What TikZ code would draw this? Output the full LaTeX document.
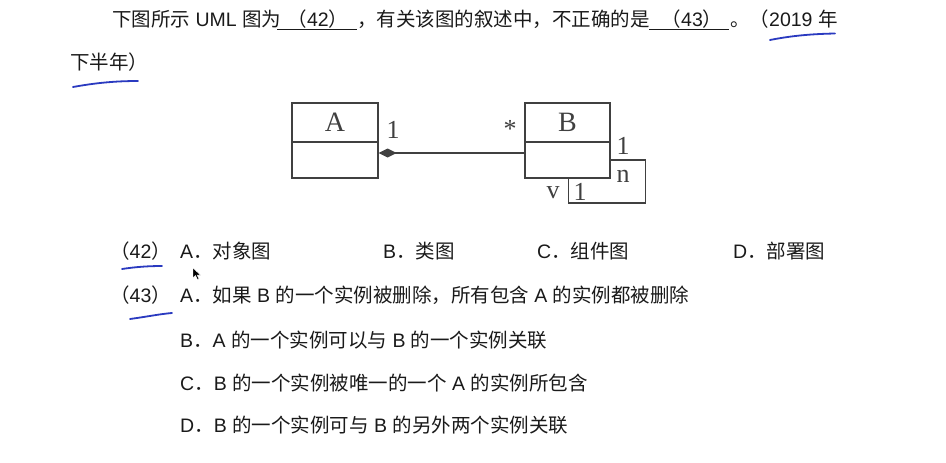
\documentclass[tikz,border=0pt]{standalone}
\usepackage{fontspec}
\setmainfont{Liberation Sans}
\newfontfamily\cjk{Noto Sans CJK SC}
\newfontfamily\lsf{Liberation Sans}
\newfontfamily\tms{Liberation Serif}
\newcommand\ls[1]{{\lsf #1}}
\usetikzlibrary{arrows.meta}
\definecolor{dline}{HTML}{404040}
\definecolor{tcol}{HTML}{1A1A1A}
\definecolor{penblue}{HTML}{2A3AC0}
\tikzset{
  cls/.style={draw=dline, line width=1.3pt, minimum width=86pt, inner sep=0pt, font=\tms\fontsize{28}{28}\selectfont, text=dline},
  mult/.style={font=\tms\fontsize{26}{26}\selectfont, inner sep=0pt, text=dline},
  txt/.style={anchor=base west, inner sep=0pt, font=\cjk\fontsize{19.5}{24}\selectfont, text=tcol},
  qnum/.style={anchor=base, inner sep=0pt, font=\cjk\fontsize{19.5}{24}\selectfont, text=tcol},
  blank/.style={draw=tcol, line width=0.9pt},
  pen/.style={draw=penblue, line width=1.8pt, line cap=round},
}
\begin{document}
\begin{tikzpicture}[x=1pt,y=-1pt]
\useasboundingbox[fill=white] (0,0) rectangle (946,463);

% question text
\node[txt] (l1a) at (112,27) {下图所示\ls{ UML }图为};
\draw[blank] (277,29.5) -- (357,29.5);
\node[qnum] (q42) at (318,27) {（\ls{42}）};
\node[txt] (l1b) at (357,27) {，有关该图的叙述中，不正确的是};
\draw[blank] (649,29.5) -- (729,29.5);
\node[qnum] (q43) at (692,27) {（\ls{43}）};
\node[txt] (l1c) at (730,27) {。（\ls{2019 }年};
\node[txt] (l2) at (70,69) {下半年）};

% UML diagram
\node[cls, minimum height=39pt] (Atop) at (335,122.5) {A};
\node[cls, minimum height=36pt] (Abot) at (335,160) {};
\node[cls, minimum width=85pt, minimum height=39pt] (Btop) at (567.5,122.5) {B};
\node[cls, minimum width=85pt, minimum height=36pt] (Bbot) at (567.5,160) {};
\draw[draw=dline, line width=1.3pt, {Diamond[length=18pt,width=9pt,fill=dline]}-]
  ([yshift=7pt]Abot.east) -- ([yshift=7pt]Bbot.west);
\draw[draw=dline, line width=1.3pt] (Bbot.east) -- ++(35,0) -- ++(0,43) -- ++(-77,0) -- ++(0,-25);

\node[mult] (m1) at (393,130) {1};
\node[mult] (m2) at (510,129) {*};
\node[mult] (m3) at (623,146) {1};
\node[mult] (m4) at (623,176) {n};
\node[mult] (m5) at (553,193) {v};
\node[mult] (m6) at (580,192) {1};

% options
\node[txt] (o42) at (110,258) {（\ls{42}）};
\node[txt] (o42a) at (180,258) {\ls{A}．对象图};
\node[txt] (o42b) at (383,258) {\ls{B}．类图};
\node[txt] (o42c) at (537,258) {\ls{C}．组件图};
\node[txt] (o42d) at (733,258) {\ls{D}．部署图};
\node[txt] (o43) at (110,302) {（\ls{43}）};
\node[txt] (o43a) at (180,302) {\ls{A}．如果\ls{ B }的一个实例被删除，所有包含\ls{ A }的实例都被删除};
\node[txt] (o43b) at (180,347) {\ls{B}．\ls{A }的一个实例可以与\ls{ B }的一个实例关联};
\node[txt] (o43c) at (180,390) {\ls{C}．\ls{B }的一个实例被唯一的一个\ls{ A }的实例所包含};
\node[txt] (o43d) at (180,432) {\ls{D}．\ls{B }的一个实例可与\ls{ B }的另外两个实例关联};

% handwritten marks
\draw[pen] (770,40) .. controls (790,36) and (810,34) .. (835,33.5);
\draw[pen] (73,87) .. controls (95,83) and (115,81) .. (138,81);
\draw[pen] (122,269) .. controls (135,267) and (148,266) .. (162,266);
\draw[pen] (130,319) .. controls (145,317) and (160,314) .. (172,313);

% mouse pointer
\fill[black, draw=white, line width=0.4pt] (193,268) -- (193,278) -- (195.5,275.5) -- (197.5,279.5) -- (199,278.8) -- (197,275) -- (200.5,275) -- cycle;
\end{tikzpicture}
\end{document}
